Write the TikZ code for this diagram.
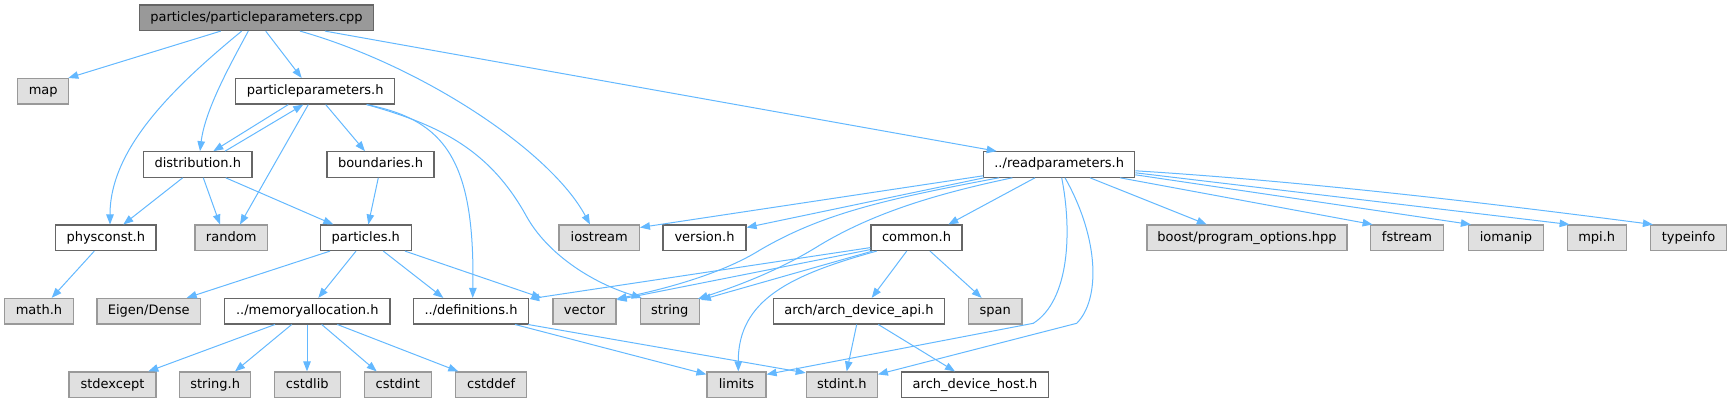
\documentclass[tikz,border=0pt]{standalone}
\usepackage{fontspec}
\setmainfont{DejaVu Sans}
\usetikzlibrary{arrows.meta}
\definecolor{depblue}{HTML}{63B8FF}
\definecolor{incline}{HTML}{666666}
\definecolor{sysline}{HTML}{999999}
\definecolor{sysfill}{HTML}{E0E0E0}
\definecolor{rootfill}{HTML}{999999}
\begin{document}
\begin{tikzpicture}[x=1pt,y=-1pt,>={Triangle[length=10pt,width=7.5pt]},
  box/.style={draw,line width=1.2pt,inner sep=0pt,minimum height=25.4pt,
    text height=9.6pt,text depth=2.6pt,font=\fontsize{13}{15}\selectfont},
  inc/.style={box,draw=incline,fill=white},
  sys/.style={box,draw=sysline,fill=sysfill},
  root/.style={box,draw=incline,fill=rootfill},
  dep/.style={->,color=depblue,line width=1pt}]
\useasboundingbox (0,0) rectangle (1732,403);

\node[root,minimum width=233.6] (cpp) at (256.5,17.8) {particles/particleparameters.cpp};

\node[sys,minimum width=51] (map) at (43.2,91.3) {map};
\node[inc,minimum width=159] (pph) at (315.2,91.3) {particleparameters.h};

\node[inc,minimum width=108.3] (dist) at (197.8,164.5) {distribution.h};
\node[inc,minimum width=107] (bound) at (380.5,164.5) {boundaries.h};
\node[inc,minimum width=151] (readp) at (1059.2,164.5) {../readparameters.h};

\node[inc,minimum width=100.3] (phys) at (105.8,237.8) {physconst.h};
\node[sys,minimum width=72.3] (rnd) at (231.2,237.8) {random};
\node[inc,minimum width=91] (parts) at (365.8,237.8) {particles.h};
\node[sys,minimum width=80.3] (ios) at (599.2,237.8) {iostream};
\node[inc,minimum width=83] (ver) at (704.5,237.8) {version.h};
\node[inc,minimum width=91] (common) at (916.5,237.8) {common.h};
\node[sys,minimum width=200] (boost) at (1247,237.8) {boost/program\_options.hpp};
\node[sys,minimum width=73.6] (fstr) at (1407,237.8) {fstream};
\node[sys,minimum width=75] (iom) at (1506,237.8) {iomanip};
\node[sys,minimum width=59] (mpi) at (1596.7,237.8) {mpi.h};
\node[sys,minimum width=76] (tinfo) at (1688.5,237.8) {typeinfo};

\node[sys,minimum width=68.6] (math) at (39,311.2) {math.h};
\node[sys,minimum width=103.3] (eigen) at (148.7,311.2) {Eigen/Dense};
\node[inc,minimum width=165.3] (mem) at (307.3,311.2) {../memoryallocation.h};
\node[inc,minimum width=115.3] (defs) at (471,311.2) {../definitions.h};
\node[sys,minimum width=63] (vec) at (584.5,311.2) {vector};
\node[sys,minimum width=59] (str) at (669.8,311.2) {string};
\node[inc,minimum width=171.3] (api) at (859,311.2) {arch/arch\_device\_api.h};
\node[sys,minimum width=53.7] (span) at (995.2,311.2) {span};

\node[sys,minimum width=87] (stdexc) at (112.5,384.7) {stdexcept};
\node[sys,minimum width=71] (strh) at (215.2,384.7) {string.h};
\node[sys,minimum width=66] (cstdlib) at (307.3,384.7) {cstdlib};
\node[sys,minimum width=67] (cstdint) at (397.8,384.7) {cstdint};
\node[sys,minimum width=71] (cstddef) at (491.2,384.7) {cstddef};
\node[sys,minimum width=59] (lim) at (736.5,384.7) {limits};
\node[sys,minimum width=71] (stdint) at (841.8,384.7) {stdint.h};
\node[inc,minimum width=147.3] (host) at (975,384.7) {arch\_device\_host.h};

\draw[dep] ([xshift=-35.8]cpp.south) -- ([xshift=-1]map.north east);
\draw[dep] ([xshift=-14.8]cpp.south) .. controls (170,90) and (110,150) .. ([xshift=4.2]phys.north);
\draw[dep] ([xshift=-8.2]cpp.south) .. controls (230,65) and (205,110) .. ([xshift=2.2]dist.north);
\draw[dep] ([xshift=9.2]cpp.south) -- ([xshift=-13.5]pph.north);
\draw[dep] ([xshift=43.5]cpp.south) .. controls (420,65) and (550,150) .. ([xshift=-9.2]ios.north);
\draw[dep] ([xshift=68.5]cpp.south) -- ([xshift=-62.5]readp.north);

\draw[dep] ([xshift=-26.9]pph.south) -- ([xshift=15.5]dist.north);
\draw[dep] ([xshift=27.2]dist.north) -- ([xshift=-11.9]pph.south);
\draw[dep] ([xshift=-6.9]pph.south) -- ([xshift=8.8]rnd.north);
\draw[dep] ([xshift=10.5]pph.south) -- ([xshift=-15.5]bound.north);
\draw[dep] ([xshift=51.5]pph.south) .. controls (445,120) and (475,160) .. ([xshift=1.7]defs.north);
\draw[dep] ([xshift=51.5]pph.south) .. controls (440,125) and (490,150) .. (526.7,216.7)
  .. controls (547,253) and (590,282) .. ([xshift=2]str.north west);

\draw[dep] ([xshift=-15.1]dist.south) -- ([xshift=17.5]phys.north);
\draw[dep] ([xshift=5.5]dist.south) -- ([xshift=-11.2]rnd.north);
\draw[dep] ([xshift=27.9]dist.south) -- ([xshift=-32.5]parts.north);
\draw[dep] ([xshift=-2.2]bound.south) -- ([xshift=2.5]parts.north);
\draw[dep] ([xshift=-11.5]phys.south) -- ([xshift=12.7]math.north);

\draw[dep] ([xshift=-35.8]parts.south) -- ([xshift=38]eigen.north);
\draw[dep] ([xshift=-9.8]parts.south) -- ([xshift=11]mem.north);
\draw[dep] ([xshift=17.5]parts.south) -- ([xshift=-27.7]defs.north);
\draw[dep] ([xshift=39.2]parts.south) -- ([xshift=-42.8]vec.north);

\draw[dep] ([xshift=-32.3]mem.south) -- ([xshift=35.8]stdexc.north);
\draw[dep] ([xshift=-15.6]mem.south) -- ([xshift=19.8]strh.north);
\draw[dep] ([xshift=-0.3]mem.south) -- ([xshift=-0.3]cstdlib.north);
\draw[dep] ([xshift=14.4]mem.south) -- ([xshift=-21.1]cstdint.north);
\draw[dep] ([xshift=30]mem.south) -- ([xshift=-32.9]cstddef.north);

\draw[dep] ([xshift=44]defs.south) -- ([yshift=-3]lim.north west);
\draw[dep] ([xshift=57]defs.south) -- ([yshift=-1.5]stdint.north west);

\draw[dep] ([yshift=2]readp.south west) -- ([yshift=-3]ios.north east);
\draw[dep] ([xshift=1]readp.south west) -- ([yshift=-3]ver.north east);
\draw[dep] ([xshift=16]readp.south west) .. controls (880,200) and (820,215) .. (760,250)
  .. controls (720,275) and (660,290) .. ([yshift=-1]vec.north east);
\draw[dep] ([xshift=29.3]readp.south west) .. controls (930,195) and (870,215) .. (820,245)
  .. controls (780,270) and (740,285) .. ([xshift=-2,yshift=-1]str.north east);
\draw[dep] ([xshift=-24.2]readp.south) -- ([xshift=31.8]common.north);
\draw[dep] ([xshift=2.5]readp.south) .. controls (1072,230) and (1070,300) .. (1033.3,323.3)
  -- ([yshift=-3]lim.north east);
\draw[dep] ([xshift=5.8]readp.south) .. controls (1100,240) and (1100,300) .. (1076.7,323.3)
  -- ([yshift=-3]stdint.north east);
\draw[dep] ([xshift=30.8]readp.south) -- ([xshift=-40.2]boost.north);
\draw[dep] ([xshift=60.8]readp.south) -- ([xshift=3]fstr.north west);
\draw[dep] ([yshift=3]readp.south east) -- ([xshift=3]iom.north west);
\draw[dep] ([yshift=5]readp.south east) -- ([xshift=3]mpi.north west);
\draw[dep] ([yshift=7]readp.south east) .. controls (1300,181) and (1480,202) .. ([xshift=3]tinfo.north west);

\draw[dep] ([yshift=3.5]common.south west) -- ([yshift=-1]defs.north east);
\draw[dep] ([yshift=1.5]common.south west) -- ([yshift=-2]vec.north east);
\draw[dep] ([xshift=2]common.south west) -- ([xshift=1,yshift=-2]str.north east);
\draw[dep] ([xshift=-39.8]common.south) .. controls (790,275) and (738,300) .. ([xshift=1.8]lim.north);
\draw[dep] ([xshift=-9.8]common.south) -- ([xshift=12.7]api.north);
\draw[dep] ([xshift=13.5]common.south) -- ([xshift=-13.5]span.north);

\draw[dep] ([xshift=-2.3]api.south) -- ([xshift=4.9]stdint.north);
\draw[dep] ([xshift=19.3]api.south) -- ([xshift=-20]host.north);
\end{tikzpicture}
\end{document}
